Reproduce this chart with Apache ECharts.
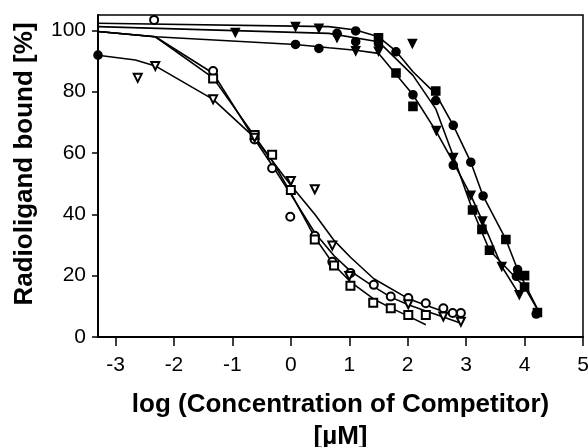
<!DOCTYPE html>
<html>
	<head>
		<meta charset="utf-8">
		<title>Radioligand binding</title>
		<script src="https://cdn.jsdelivr.net/npm/echarts@6/dist/echarts.min.js"></script>
		<style>
			html,body {
				margin: 0;
				padding: 0;
				background-color: #fff;
			}
			#main{
				width: 588px;
				height: 447px;
			}
		</style>
	</head>
	<body>
		<div id="main"></div>
		<script>
		var xTicks = [-3, -2, -1, 0, 1, 2, 3, 4, 5];

		// measured points, left group (open symbols)
		var openCircleX = [-2.34, -1.33, -0.62, -0.32, -0.01, 0.41, 0.71, 1.02, 1.42, 1.71, 2.01, 2.31, 2.61, 2.77, 2.91];
		var openCircleY = [103.4, 86.7, 64.4, 55.0, 39.2, 33.0, 24.5, 20.9, 17.0, 13.2, 12.7, 11.0, 9.4, 7.8, 7.8];
		var openSquareX = [-1.33, -0.62, -0.32, 0.0, 0.41, 0.74, 1.02, 1.41, 1.71, 2.01, 2.31];
		var openSquareY = [84.3, 65.9, 59.4, 47.9, 31.8, 23.3, 16.7, 11.2, 9.4, 7.2, 7.2];
		var openTriX = [-2.62, -2.32, -1.33, -0.62, 0.0, 0.41, 0.71, 1.0, 2.01, 2.61, 2.91];
		var openTriY = [84.5, 88.4, 77.5, 65.0, 50.9, 48.2, 29.8, 19.9, 10.7, 6.7, 5.0];

		// measured points, right group (filled symbols)
		var filledCircleX = [-3.3, 0.08, 0.48, 0.79, 1.11, 1.11, 1.50, 1.80, 2.09, 2.48, 2.78, 2.78, 3.08, 3.29, 3.86, 3.88, 4.20];
		var filledCircleY = [91.9, 95.4, 94.1, 99.0, 99.8, 96.3, 95.7, 93.0, 79.0, 77.1, 69.0, 56.0, 57.0, 46.0, 19.8, 22.0, 7.5];
		var filledSquareX = [1.50, 1.80, 2.09, 2.48, 3.11, 3.27, 3.40, 3.68, 4.00, 4.00, 4.22];
		var filledSquareY = [97.6, 86.1, 75.2, 80.2, 41.4, 35.1, 28.3, 31.8, 20.0, 16.3, 8.0];
		var filledTriX = [-0.95, 0.08, 0.48, 0.79, 1.11, 1.50, 2.08, 2.49, 2.78, 3.08, 3.28, 3.61, 3.91];
		var filledTriY = [99.3, 101.2, 100.7, 97.6, 93.3, 93.2, 95.7, 67.3, 58.5, 46.2, 37.8, 23.0, 13.8];

		// fitted curves
		var fitOpenCircleX = [-3.3, -2.32, -1.33, -0.62, -0.32, 0.0, 0.41, 0.74, 1.02, 1.41, 1.71, 2.01, 2.31, 2.61, 2.91];
		var fitOpenCircleY = [99.6, 97.9, 86.0, 64.5, 56.0, 46.5, 34.0, 26.5, 21.5, 16.5, 13.0, 10.5, 8.5, 6.5, 4.5];
		var fitOpenSquareX = [-3.3, -2.32, -1.33, -0.62, -0.32, 0.0, 0.41, 0.74, 1.02, 1.41, 1.71, 2.01, 2.31];
		var fitOpenSquareY = [99.6, 97.9, 84.5, 65.5, 57.5, 47.0, 32.5, 23.5, 18.0, 12.5, 9.5, 6.8, 4.0];
		var fitOpenTriX = [-3.3, -2.66, -2.32, -1.33, -0.62, -0.32, 0.0, 0.41, 0.74, 1.02, 1.42, 2.01, 2.61, 2.91];
		var fitOpenTriY = [91.9, 90.3, 88.4, 77.5, 65.0, 57.5, 49.5, 40.0, 31.5, 26.0, 19.0, 12.5, 8.3, 6.5];
		var fitFilledCircleX = [-3.3, 0.65, 1.11, 1.50, 1.80, 2.09, 2.48, 2.78, 3.08, 3.29, 3.68, 3.88, 4.25];
		var fitFilledCircleY = [102.3, 101.2, 100.1, 97.9, 93.2, 86.5, 79.3, 69.0, 57.0, 46.0, 31.8, 22.0, 8.0];
		var fitFilledSquareX = [-3.3, 0.65, 1.50, 2.09, 2.48, 2.78, 3.11, 3.40, 4.00, 4.25];
		var fitFilledSquareY = [101.2, 99.0, 96.3, 85.3, 74.4, 59.0, 41.4, 28.3, 16.3, 8.0];
		var fitFilledTriX = [-3.3, -2.32, 0.08, 0.65, 1.11, 1.50, 2.09, 2.48, 2.78, 3.08, 3.28, 3.61, 3.91];
		var fitFilledTriY = [99.6, 97.9, 95.4, 94.3, 93.5, 92.5, 79.0, 67.3, 57.0, 46.2, 37.8, 23.0, 13.8];

		var zip = function(xs, ys) {
			return xs.map(function (x, i) { return [x, ys[i]]; });
		};

		var fontFam = '"Liberation Sans", Arial, Helvetica, sans-serif';

		var fitLine = function(xs, ys) {
			return {
				type: 'line',
				data: zip(xs, ys),
				showSymbol: false,
				symbol: 'none',
				lineStyle: { color: '#000', width: 1.6 },
				z: 2
			};
		};
		var dots = function(xs, ys, symbol, rotate, size) {
			return {
				type: 'scatter',
				data: zip(xs, ys),
				symbol: symbol,
				symbolRotate: rotate,
				symbolSize: size,
				itemStyle: { color: '#000', borderColor: '#000', borderWidth: 1.6, opacity: 1 },
				z: 3
			};
		};

		var chart = echarts.init(document.getElementById('main'));
		var option = {
			animation: false,
			grid: {
				left: 98,
				right: 5,
				top: 15,
				bottom: 110,
				outerBoundsMode: 'none',
				show: true,
				borderColor: '#000',
				borderWidth: 1.5
			},
			xAxis: {
				type: 'value',
				min: -3.3,
				max: 5,
				axisLine: { onZero: false, lineStyle: { color: '#000', width: 2 } },
				axisTick: { show: true, customValues: xTicks, length: 9, lineStyle: { color: '#000', width: 1.5 } },
				axisLabel: { customValues: xTicks, color: '#000', fontSize: 21, fontFamily: fontFam, margin: 18 },
				splitLine: { show: false },
				name: 'log (Concentration of Competitor)\n[µM]',
				nameLocation: 'middle',
				nameGap: 52,
				nameTextStyle: { color: '#000', fontSize: 26, fontWeight: 'bold', fontFamily: fontFam, lineHeight: 32 }
			},
			yAxis: {
				type: 'value',
				min: 0,
				max: 105,
				interval: 20,
				axisLine: { show: true, onZero: false, lineStyle: { color: '#000', width: 2 } },
				axisTick: { show: true, length: 6, lineStyle: { color: '#000', width: 1.5 } },
				axisLabel: { color: '#000', fontSize: 21, fontFamily: fontFam, margin: 12 },
				splitLine: { show: false },
				name: 'Radioligand bound [%]',
				nameLocation: 'middle',
				nameGap: 60,
				nameTextStyle: { color: '#000', fontSize: 26, fontWeight: 'bold', fontFamily: fontFam, padding: [0, 0, 0, 24] }
			},
			series: [
				fitLine(fitOpenCircleX, fitOpenCircleY),
				fitLine(fitOpenSquareX, fitOpenSquareY),
				fitLine(fitOpenTriX, fitOpenTriY),
				fitLine(fitFilledCircleX, fitFilledCircleY),
				fitLine(fitFilledSquareX, fitFilledSquareY),
				fitLine(fitFilledTriX, fitFilledTriY),
				dots(openCircleX, openCircleY, 'emptyCircle', 0, 8),
				dots(openSquareX, openSquareY, 'emptyRect', 0, 8),
				dots(openTriX, openTriY, 'emptyTriangle', 180, 8),
				dots(filledCircleX, filledCircleY, 'circle', 0, 8),
				dots(filledSquareX, filledSquareY, 'rect', 0, 8),
				dots(filledTriX, filledTriY, 'triangle', 180, 8)
			]
		};
		chart.setOption(option);
		</script>
	</body>
</html>
